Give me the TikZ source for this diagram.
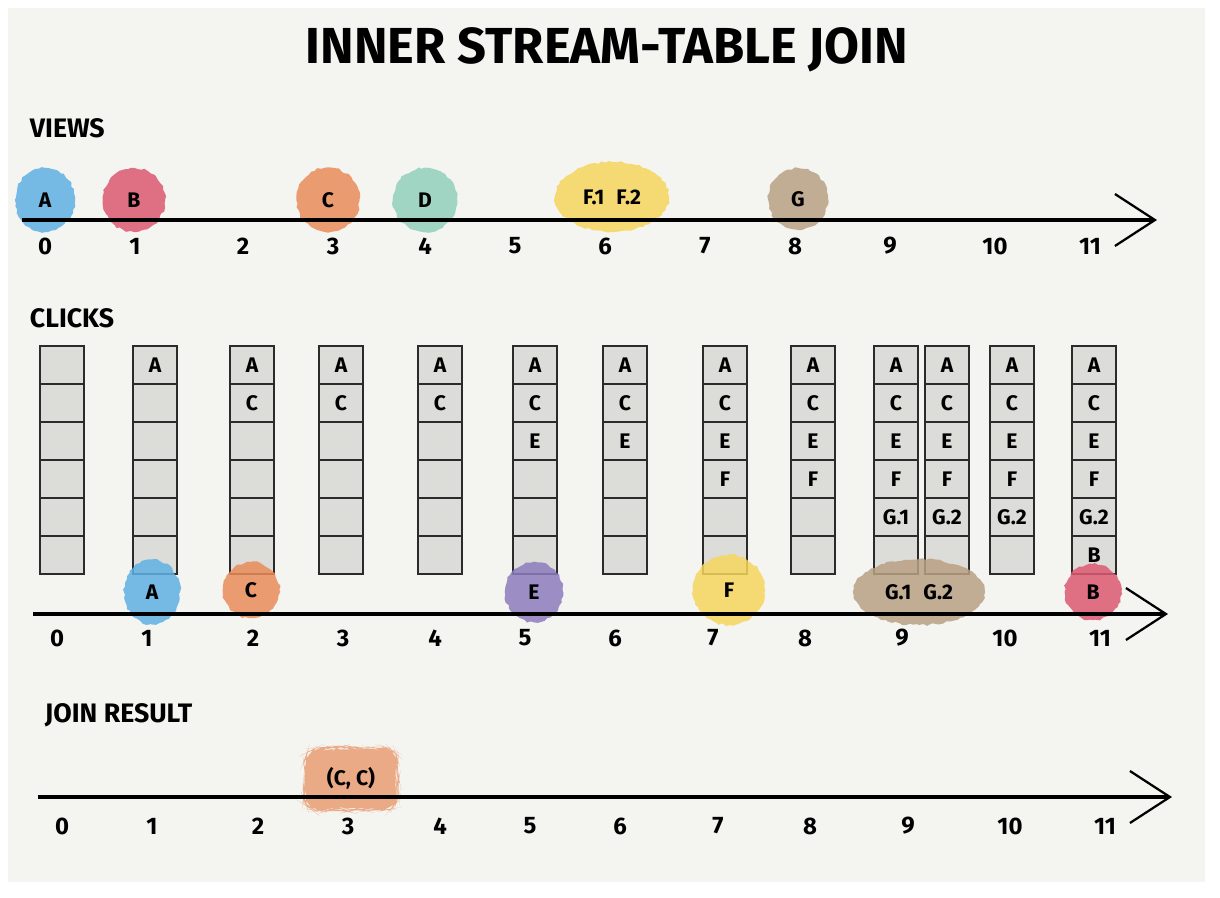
\documentclass[tikz,border=0pt]{standalone}
\usepackage{fontspec}
\setmainfont{Fira Sans}
\usetikzlibrary{arrows.meta, shapes.geometric, decorations.pathmorphing}

\definecolor{paper}{HTML}{F4F4F1}
\definecolor{ink}{HTML}{2B2B2B}
\definecolor{cellgray}{HTML}{DCDCD8}
\definecolor{blueblob}{HTML}{5FB1E3}
\definecolor{redblob}{HTML}{DC5A72}
\definecolor{orangeblob}{HTML}{E98C5A}
\definecolor{tealblob}{HTML}{92D0BC}
\definecolor{yellowblob}{HTML}{F6D65E}
\definecolor{tanblob}{HTML}{B9A084}
\definecolor{purpleblob}{HTML}{8D7BBE}
\definecolor{joinblob}{HTML}{E9A27A}

\begin{document}
\begin{tikzpicture}[x=0.025cm, y=-0.025cm,
  every node/.style={font=\bfseries},
  blob/.style n args={3}{ellipse, draw=none, fill=#1, fill opacity=0.85, text opacity=1,
    minimum width=#2, minimum height=#3, inner sep=0pt,
    font=\bfseries\fontsize{15}{15}\selectfont,
    decorate, decoration={random steps, segment length=2.5pt, amplitude=0.8pt}},
  cell/.style={rectangle, draw=ink, line width=1.4pt, fill=cellgray,
    minimum width=1.1cm, minimum height=0.95cm, inner sep=0pt},
  axis/.style={line width=2.8pt, -{Straight Barb[length=1cm, width=1.3cm, line width=1.6pt]}},
  tick/.style={font=\bfseries\fontsize{17}{17}\selectfont},
  letter/.style={font=\bfseries\fontsize{15}{15}\selectfont},
  heading/.style={anchor=west, font=\bfseries\fontsize{19}{19}\selectfont}]

  % paper
  \useasboundingbox (0,0) rectangle (1220,898);
  \fill[paper] (8,8) rectangle (1205,882);

  \node[font=\bfseries\fontsize{36}{36}\selectfont] (title) at (607,50) {INNER STREAM-TABLE JOIN};

  % views
  \node[heading] (views) at (25,128) {VIEWS};
  \node[blob={blueblob}{1.5cm}{1.6cm}] (vA) at (45,200) {A};
  \node[blob={redblob}{1.55cm}{1.6cm}] (vB) at (134,200) {B};
  \node[blob={orangeblob}{1.57cm}{1.62cm}] (vC) at (328,200) {C};
  \node[blob={tealblob}{1.6cm}{1.6cm}] (vD) at (425,200) {D};
  \node[blob={yellowblob}{2.85cm}{1.75cm}] (vF) at (612,197) {F.1\hspace{0.3cm}F.2};
  \node[blob={tanblob}{1.5cm}{1.55cm}] (vG) at (798,199) {G};
  \coordinate (vs) at (22,220);
  \coordinate (ve) at (1157,220);
  \draw[axis] (vs) -- (ve);
  \foreach \n/\x in {0/45,1/135,2/243,3/333,4/425,5/515,6/605,7/705,8/795,9/890,10/995,11/1090}
    \node[tick] (vt\n) at (\x,246) {\n};

  % clicks
  \node[heading] (clicks) at (25,318) {CLICKS};
  \foreach \i/\cx in {0/62,1/155,2/252,3/341,4/440,5/535,6/625,7/725,8/813,9/896,10/947,11/1012,12/1094}
    \foreach \r in {1,...,6}
      \node[cell] (c\i-\r) at (\cx,{346+38*\r-19}) {};
  \foreach \i/\items in {1/{A},2/{A,C},3/{A,C},4/{A,C},5/{A,C,E},6/{A,C,E},7/{A,C,E,F},8/{A,C,E,F},
      9/{A,C,E,F,G.1},10/{A,C,E,F,G.2},11/{A,C,E,F,G.2},12/{A,C,E,F,G.2,B}}
    \foreach \t [count=\r] in \items
      \node[letter] at (c\i-\r) {\t};
  \node[blob={blueblob}{1.4cm}{1.62cm}] (kA) at (152,592) {A};
  \node[blob={orangeblob}{1.42cm}{1.4cm}] (kC) at (251,590) {C};
  \node[blob={purpleblob}{1.45cm}{1.5cm}] (kE) at (534,592) {E};
  \node[blob={yellowblob}{1.8cm}{1.75cm}] (kF) at (729,590) {F};
  \node[blob={tanblob}{3.3cm}{1.65cm}] (kG) at (919,592) {G.1\hspace{0.3cm}G.2};
  \node[blob={redblob}{1.42cm}{1.4cm}] (kB) at (1093,592) {B};
  \coordinate (ks) at (33,614);
  \coordinate (ke) at (1168,614);
  \draw[axis] (ks) -- (ke);
  \foreach \n/\x in {0/57,1/147,2/253,3/343,4/435,5/525,6/615,7/713,8/805,9/902,10/1005,11/1100}
    \node[tick] (kt\n) at (\x,638) {\n};

  % join result
  \node[heading] (join) at (40,715) {JOIN RESULT};
  \node[rectangle, rounded corners=10pt, draw=none, fill=joinblob, fill opacity=0.9, text opacity=1,
    minimum width=2.32cm, minimum height=1.55cm, inner sep=0pt,
    font=\bfseries\fontsize{15}{15}\selectfont,
    decorate, decoration={random steps, segment length=3pt, amplitude=0.6pt}] (jCC) at (351,779) {};
  \node[letter] (jtext) at (351,778) {(C, C)};
  \coordinate (js) at (38,797);
  \coordinate (je) at (1172,797);
  \draw[axis] (js) -- (je);
  \foreach \n/\x in {0/62,1/152,2/258,3/348,4/440,5/530,6/620,7/718,8/810,9/908,10/1010,11/1105}
    \node[tick] (jt\n) at (\x,826) {\n};
\end{tikzpicture}
\end{document}
